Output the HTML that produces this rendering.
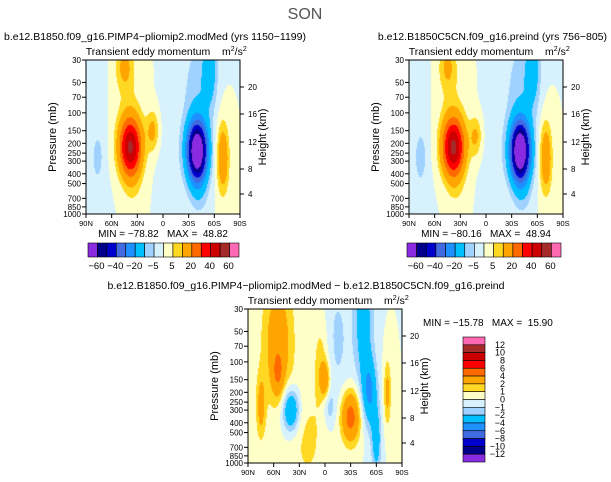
<!DOCTYPE html>
<html><head><meta charset="utf-8"><style>
body{margin:0;background:#fff;}
#root{position:relative;width:611px;height:482px;overflow:hidden;font-family:"Liberation Sans",sans-serif;color:#000;}
canvas{position:absolute;}
</style></head><body>
<div id="root">
<svg id="svg" width="611" height="482" style="position:absolute;left:0;top:0;z-index:1"></svg>
</div>
<script>
// ---- data ----
const topLevels=[-60,-50,-40,-30,-20,-10,-5,0,5,10,20,30,40,50,60];
const topColors=["#8a2be2","#00008b","#0000cd","#4169e1","#1e90ff","#00bfff","#a0d2ff","#d7f2fc","#ffffc8","#ffd824","#ffa500","#ff6a00","#ff0000","#cc0000","#a52a2a","#ff69b4"];
const topLabels=["-60","-40","-20","-5","5","20","40","60"];
const botLevels=[-12,-10,-8,-6,-4,-2,-1,0,1,2,4,6,8,10,12];
const botLabels=["-12","-10","-8","-6","-4","-2","-1","0","1","2","4","6","8","10","12"];
const pTicks=[30,50,70,100,150,200,250,300,400,500,700,850,1000];
const hTicks=[20,16,12,8,4];
const hOffsets=[27,54,82,109,134];
const latTicks=["90N","60N","30N","0","30S","60S","90S"];
// blobs: [lat, pressure, amplitude, sigmaLat, sigmaZ]
const blobsA=[[38,220,50,9,0.13],[45,35,11,7,0.1],[40,90,4,12,0.25],[-40,240,-80,8,0.13],[-40,70,-8,12,0.3],[-55,35,-14,6,0.18],[12,150,12,5,0.09],[-70,280,18,5,0.16],[75,270,-4,4,0.1],[35,600,3,8,0.12],[-42,600,-6,8,0.12],[85,400,-4,12,0.6],[-10,400,-3,10,0.5]];
const blobsB=[[38,220,51,9,0.13],[45,35,10,7,0.1],[40,90,4,12,0.25],[-40,240,-81,8,0.13],[-40,70,-8,12,0.3],[-55,35,-14,6,0.18],[12,170,11,5,0.09],[-70,280,18,5,0.16],[75,270,-5,4,0.1],[35,600,3,8,0.12],[-42,600,-6,8,0.12],[85,400,-4,12,0.6],[-10,400,-3,10,0.5]];
const blobsC=[[55,60,3,13,0.3],[55,130,2.5,5,0.1],[40,300,-4.5,7,0.1],[-30,350,5,8,0.12],[-45,40,-3,8,0.3],[-52,200,-4,6,0.15],[-60,600,-3,4,0.15],[-15,60,-1.2,10,0.3],[-5,280,-1.5,5,0.08],[0,150,3,4,0.08],[5,100,1.5,6,0.2],[75,280,2.5,4,0.15],[-73,200,2.5,3,0.15],[20,600,1.2,15,0.25]];

const svg=document.getElementById('svg');const root=document.getElementById('root');
const NS="http://www.w3.org/2000/svg";
function mk(tag,attrs,parent){const e=document.createElementNS(NS,tag);for(const k in attrs)e.setAttribute(k,attrs[k]);(parent||svg).appendChild(e);return e;}
function txt(s,x,y,size,anchor,parent,rot){const e=mk('text',{x:x,y:y,'font-size':size,'text-anchor':anchor||'middle','font-family':'Liberation Sans, sans-serif'},parent);e.style.whiteSpace='pre';if(rot)e.setAttribute('transform','rotate(-90 '+x+' '+y+')');e.textContent=s;return e;}
function zOf(p){return Math.log(1000/p)/Math.log(1000/30);}
function field(blobs,lat,z){let v=0;for(const b of blobs){const dl=(lat-b[0])/b[3],dz=(z-zOf(b[1]))/b[4];v+=b[2]*Math.exp(-0.5*(dl*dl+dz*dz));}return v;}
function colorFor(v,levels,colors){let i=0;while(i<levels.length&&v>=levels[i])i++;return colors[i];}
function hex(c){return [parseInt(c.substr(1,2),16),parseInt(c.substr(3,2),16),parseInt(c.substr(5,2),16)];}

function panel(name,L,T,W,H,blobs,levels,colors){
  const cv=document.createElement('canvas');cv.width=W;cv.height=H;cv.style.left=L+'px';cv.style.top=T+'px';
  
  
  root.insertBefore(cv,svg);
  const ctx=cv.getContext('2d');const img=ctx.createImageData(W,H);
  for(let y=0;y<H;y++)for(let x=0;x<W;x++){const lat=90-180*(x+0.5)/W,z=1-(y+0.5)/H;const c=hex(colorFor(field(blobs,lat,z),levels,colors));const o=(y*W+x)*4;img.data[o]=c[0];img.data[o+1]=c[1];img.data[o+2]=c[2];img.data[o+3]=255;}
  ctx.putImageData(img,0,0);
  const g=mk('g',{});
  
  
  mk('rect',{x:L,y:T,width:W,height:H,fill:'none',stroke:'#000','stroke-width':1},g);
  pTicks.forEach(p=>{const y=T+H*(1-zOf(p));mk('line',{x1:L-4,y1:y,x2:L,y2:y,stroke:'#000'},g);txt(String(p),L-5,y+3,8,'end',g);});
  hTicks.forEach((h,i)=>{const y=T+hOffsets[i];mk('line',{x1:L+W,y1:y,x2:L+W+4,y2:y,stroke:'#000'},g);txt(String(h),L+W+8,y+3,8,'start',g);});
  latTicks.forEach((s,i)=>{const x=L+W*i/6;mk('line',{x1:x,y1:T+H,x2:x,y2:T+H+4,stroke:'#000'},g);txt(s,x,T+H+12,7.5,'middle',g);});
  txt('Pressure (mb)',L-30,T+H/2,11,'middle',g,true);
  txt('Height (km)',L+W+26,T+H/2,11,'middle',g,true);
  const st=txt('Transient eddy momentum',L+W/2-15,T-5,10.5,'middle',g);
  
  const u=mk('text',{x:L+W-18,y:T-5,'font-size':10.5,'font-family':'Liberation Sans, sans-serif'},g);u.innerHTML='m<tspan dy="-4" font-size="7">2</tspan><tspan dy="4">/s</tspan><tspan dy="-4" font-size="7">2</tspan>';
}
function hbar(name,L,T,W,H){
  const g=mk('g',{});
  
  
  const bw=W/topColors.length;
  topColors.forEach((c,i)=>mk('rect',{x:L+i*bw,y:T,width:bw,height:H,fill:c,stroke:'#000','stroke-width':0.6},g));
  topLabels.forEach((s,i)=>txt(s.replace('-','\u2212'),L+bw*(2*i+1)-1,T+H+12,9.5,'middle',g));
}
function vbar(name,L,T,W,H){
  const g=mk('g',{});
  
  
  const n=topColors.length,bh=H/n;
  for(let i=0;i<n;i++)mk('rect',{x:L,y:T+i*bh,width:W,height:bh,fill:topColors[n-1-i],stroke:'#000','stroke-width':0.6},g);
  for(let k=0;k<botLabels.length;k++){const s=botLabels[botLabels.length-1-k];txt(s.replace('-','\u2212'),L+W+20,T+(k+1)*bh+3,9,'end',g);}
}
const T1=txt('SON',305,19,16,'middle');T1.setAttribute('fill','#555');
panel('pliomip-panel',86,60,154,154,blobsA,topLevels,topColors);
panel('preind-panel',409,60,154,154,blobsB,topLevels,topColors);
panel('difference-panel',248,309,154,154,blobsC,botLevels,topColors);
txt('b.e12.B1850.f09_g16.PIMP4\u2212pliomip2.modMed (yrs 1150\u22121199)',4,40,10.5,'start');
txt('b.e12.B1850C5CN.f09_g16.preind (yrs 756\u2212805)',607,40,10.5,'end');
txt('b.e12.B1850.f09_g16.PIMP4\u2212pliomip2.modMed \u2212 b.e12.B1850C5CN.f09_g16.preind',306,289,10.5,'middle');
txt('MIN = \u221278.82   MAX =  48.82',163,237,10,'middle');
txt('MIN = \u221280.16   MAX =  48.94',486,237,10,'middle');
txt('MIN = \u221215.78   MAX =  15.90',423,326,10,'start');
hbar('left-colorbar',88,243,151,14);
hbar('right-colorbar',407,243,154,14);
vbar('diff-colorbar',463,337,22,125);
</script>
</body></html>
